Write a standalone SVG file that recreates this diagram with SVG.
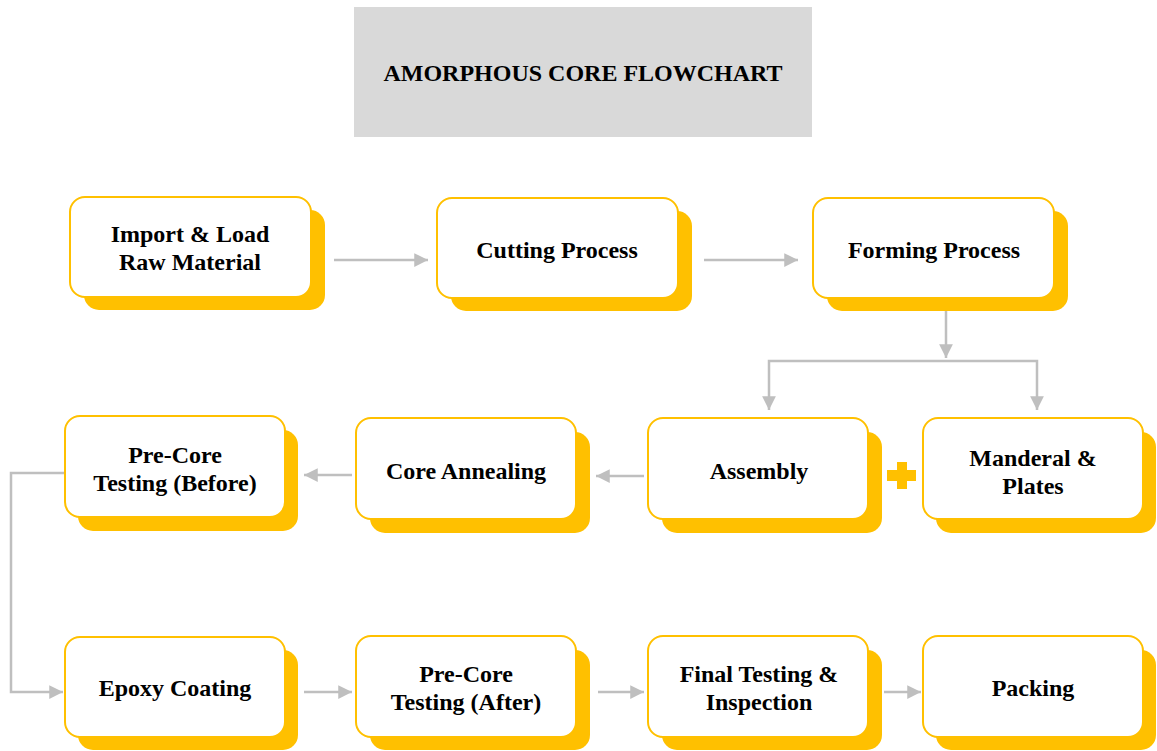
<svg xmlns="http://www.w3.org/2000/svg" width="1157" height="751" viewBox="0 0 1157 751">
<defs>
<style>
.sh{fill:#FFC000;}
.bx{fill:#fff;stroke:#FFC000;stroke-width:2;}
.t{font-family:"Liberation Serif","Times New Roman",serif;font-weight:bold;font-size:24px;fill:#000;text-anchor:middle;}
.tt{font-family:"Liberation Serif","Times New Roman",serif;font-weight:bold;font-size:24px;fill:#000;text-anchor:middle;}
.c{fill:none;stroke:#BFBFBF;stroke-width:2.5;}
</style>
<marker id="ah" viewBox="0 0 10 10" refX="10" refY="5" markerWidth="5.5" markerHeight="5.5" markerUnits="strokeWidth" orient="auto">
<path d="M0,0 L10,5 L0,10 z" fill="#BFBFBF"/>
</marker>
</defs>
<rect width="1157" height="751" fill="#fff"/>
<g id="title">
<rect x="354" y="7" width="458" height="130" fill="#D9D9D9"/>
<text class="tt" x="583" y="81">AMORPHOUS CORE FLOWCHART</text>
</g>
<g id="connectors">
<line class="c" x1="334" y1="260" x2="428" y2="260" marker-end="url(#ah)"/>
<line class="c" x1="704" y1="260" x2="798" y2="260" marker-end="url(#ah)"/>
<line class="c" x1="946" y1="311" x2="946" y2="358" marker-end="url(#ah)"/>
<polyline class="c" points="769,362 769,361 1037,361 1037,410" marker-end="url(#ah)"/>
<line class="c" x1="769" y1="362" x2="769" y2="410" marker-end="url(#ah)"/>
<line class="c" x1="644" y1="476" x2="596" y2="476" marker-end="url(#ah)"/>
<line class="c" x1="352" y1="475" x2="304" y2="475" marker-end="url(#ah)"/>
<polyline class="c" points="64,473 11,473 11,692 63,692" marker-end="url(#ah)"/>
<line class="c" x1="304" y1="692" x2="352" y2="692" marker-end="url(#ah)"/>
<line class="c" x1="598" y1="692" x2="644" y2="692" marker-end="url(#ah)"/>
<line class="c" x1="884" y1="692" x2="921" y2="692" marker-end="url(#ah)"/>
</g>
<g id="plus" fill="#FFC000">
<rect x="897" y="462" width="10" height="27"/>
<rect x="887" y="470" width="29" height="11"/>
</g>
<g id="n1">
<rect class="sh" x="84" y="210" width="241" height="100" rx="15"/>
<rect class="bx" x="70" y="197" width="241" height="100" rx="15"/>
<text class="t" x="190" y="242">Import &amp; Load</text>
<text class="t" x="190" y="270">Raw Material</text>
</g>
<g id="n2">
<rect class="sh" x="451" y="211" width="241" height="100" rx="15"/>
<rect class="bx" x="437" y="198" width="241" height="100" rx="15"/>
<text class="t" x="557" y="258">Cutting Process</text>
</g>
<g id="n3">
<rect class="sh" x="827" y="211" width="241" height="100" rx="15"/>
<rect class="bx" x="813" y="198" width="241" height="100" rx="15"/>
<text class="t" x="934" y="258">Forming Process</text>
</g>
<g id="n4">
<rect class="sh" x="78" y="430" width="220" height="101" rx="15"/>
<rect class="bx" x="65" y="416" width="220" height="101" rx="15"/>
<text class="t" x="175" y="463">Pre-Core</text>
<text class="t" x="175" y="491">Testing (Before)</text>
</g>
<g id="n5">
<rect class="sh" x="370" y="432" width="220" height="101" rx="15"/>
<rect class="bx" x="356" y="418" width="220" height="101" rx="15"/>
<text class="t" x="466" y="479">Core Annealing</text>
</g>
<g id="n6">
<rect class="sh" x="662" y="432" width="220" height="101" rx="15"/>
<rect class="bx" x="648" y="418" width="220" height="101" rx="15"/>
<text class="t" x="759" y="479">Assembly</text>
</g>
<g id="n7">
<rect class="sh" x="936" y="432" width="220" height="101" rx="15"/>
<rect class="bx" x="923" y="418" width="220" height="101" rx="15"/>
<text class="t" x="1033" y="466">Manderal &amp;</text>
<text class="t" x="1033" y="494">Plates</text>
</g>
<g id="n8">
<rect class="sh" x="78" y="650" width="220" height="100" rx="15"/>
<rect class="bx" x="65" y="637" width="220" height="100" rx="15"/>
<text class="t" x="175" y="696">Epoxy Coating</text>
</g>
<g id="n9">
<rect class="sh" x="370" y="650" width="220" height="100" rx="15"/>
<rect class="bx" x="356" y="636" width="220" height="101" rx="15"/>
<text class="t" x="466" y="682">Pre-Core</text>
<text class="t" x="466" y="710">Testing (After)</text>
</g>
<g id="n10">
<rect class="sh" x="662" y="650" width="220" height="100" rx="15"/>
<rect class="bx" x="648" y="636" width="220" height="101" rx="15"/>
<text class="t" x="759" y="682">Final Testing &amp;</text>
<text class="t" x="759" y="710">Inspection</text>
</g>
<g id="n11">
<rect class="sh" x="936" y="650" width="220" height="100" rx="15"/>
<rect class="bx" x="923" y="636" width="220" height="101" rx="15"/>
<text class="t" x="1033" y="696">Packing</text>
</g>
</svg>
